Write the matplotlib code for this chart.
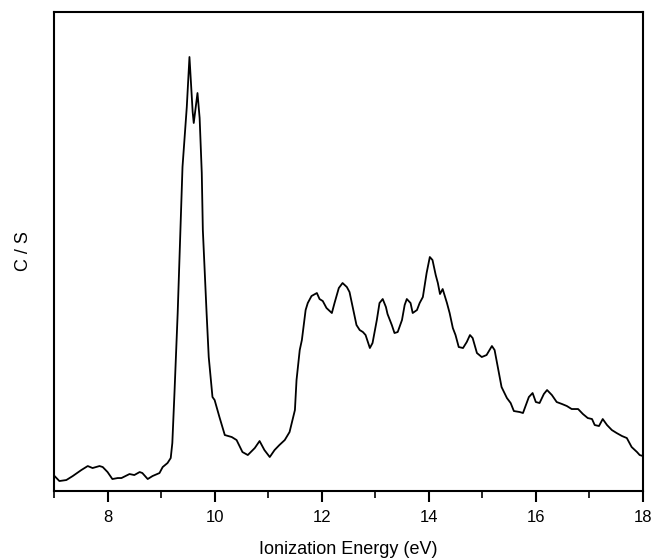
import numpy as np
import matplotlib.pyplot as plt
from matplotlib.ticker import MultipleLocator

plt.rcParams['font.family'] = ['Liberation Sans', 'DejaVu Sans']

# photoelectron spectrum (arbitrary counts)
energy = [7.01, 7.10, 7.23, 7.35, 7.51, 7.63, 7.72, 7.85, 7.91, 8.00,
          8.09, 8.19, 8.26, 8.41, 8.50, 8.60, 8.65, 8.75, 8.84, 8.97,
          9.03, 9.12, 9.18, 9.21, 9.23, 9.25, 9.31, 9.36, 9.40, 9.48,
          9.53, 9.59, 9.61, 9.68, 9.72, 9.76, 9.78, 9.85, 9.89, 9.96,
          10.00, 10.09, 10.19, 10.32, 10.41, 10.52, 10.62, 10.75, 10.84, 10.93,
          11.03, 11.12, 11.21, 11.31, 11.40, 11.50, 11.53, 11.59, 11.63, 11.70,
          11.74, 11.81, 11.91, 11.96, 12.02, 12.09, 12.19, 12.24, 12.32, 12.39,
          12.47, 12.52, 12.58, 12.65, 12.71, 12.77, 12.82, 12.90, 12.95, 13.03,
          13.08, 13.14, 13.20, 13.23, 13.31, 13.36, 13.42, 13.50, 13.55, 13.59,
          13.66, 13.70, 13.78, 13.83, 13.89, 13.96, 14.02, 14.07, 14.13, 14.17,
          14.21, 14.26, 14.34, 14.39, 14.45, 14.50, 14.56, 14.64, 14.71, 14.77,
          14.82, 14.90, 14.99, 15.08, 15.18, 15.23, 15.29, 15.36, 15.46, 15.53,
          15.59, 15.70, 15.76, 15.83, 15.87, 15.94, 16.00, 16.07, 16.15, 16.21,
          16.30, 16.39, 16.49, 16.58, 16.67, 16.79, 16.88, 16.97, 17.05, 17.10,
          17.18, 17.25, 17.33, 17.42, 17.51, 17.61, 17.70, 17.79, 17.89, 17.94,
          18.00]
counts = [12, 7, 8, 12, 18, 22, 20, 22, 21, 16,
          9, 10, 10, 14, 13, 16, 15, 9, 12, 15,
          21, 25, 30, 45, 70, 95, 175, 258, 321, 381,
          431, 376, 365, 395, 370, 315, 258, 175, 131, 91,
          88, 71, 53, 51, 48, 36, 33, 40, 47, 38,
          31, 38, 43, 48, 56, 78, 108, 138, 148, 178,
          185, 192, 195, 189, 187, 180, 175, 185, 200, 205,
          201, 196, 181, 163, 158, 156, 153, 140, 145, 168,
          185, 189, 181, 174, 163, 155, 156, 168, 183, 189,
          185, 175, 178, 185, 191, 215, 231, 228, 213, 205,
          194, 199, 185, 175, 160, 153, 141, 140, 146, 153,
          150, 135, 131, 133, 142, 138, 121, 101, 90, 85,
          77, 76, 75, 85, 91, 95, 86, 85, 94, 98,
          93, 86, 84, 82, 79, 79, 74, 70, 69, 63,
          62, 69, 63, 58, 55, 52, 50, 41, 36, 33,
          32]

fig = plt.figure(figsize=(6.54, 5.58), dpi=100)
ax = fig.add_axes([0.0826, 0.120, 0.9004, 0.8585])

ax.plot(energy, counts, color='black', linewidth=1.3)

ax.set_xlim(7, 18)
ax.set_ylim(-3, 476)
ax.xaxis.set_major_locator(MultipleLocator(2))
ax.xaxis.set_minor_locator(MultipleLocator(1))
ax.set_yticks([])
ax.tick_params(axis='x', which='major', direction='out', length=8, width=1.5,
               labelsize=12, pad=6)
ax.tick_params(axis='x', which='minor', direction='out', length=5, width=1.2)
for s in ax.spines.values():
    s.set_linewidth(1.5)

ax.set_xlabel('Ionization Energy (eV)', fontsize=13, labelpad=11)
ax.set_ylabel('C / S', fontsize=13, labelpad=16)

fig.savefig('out.png', dpi=100)
